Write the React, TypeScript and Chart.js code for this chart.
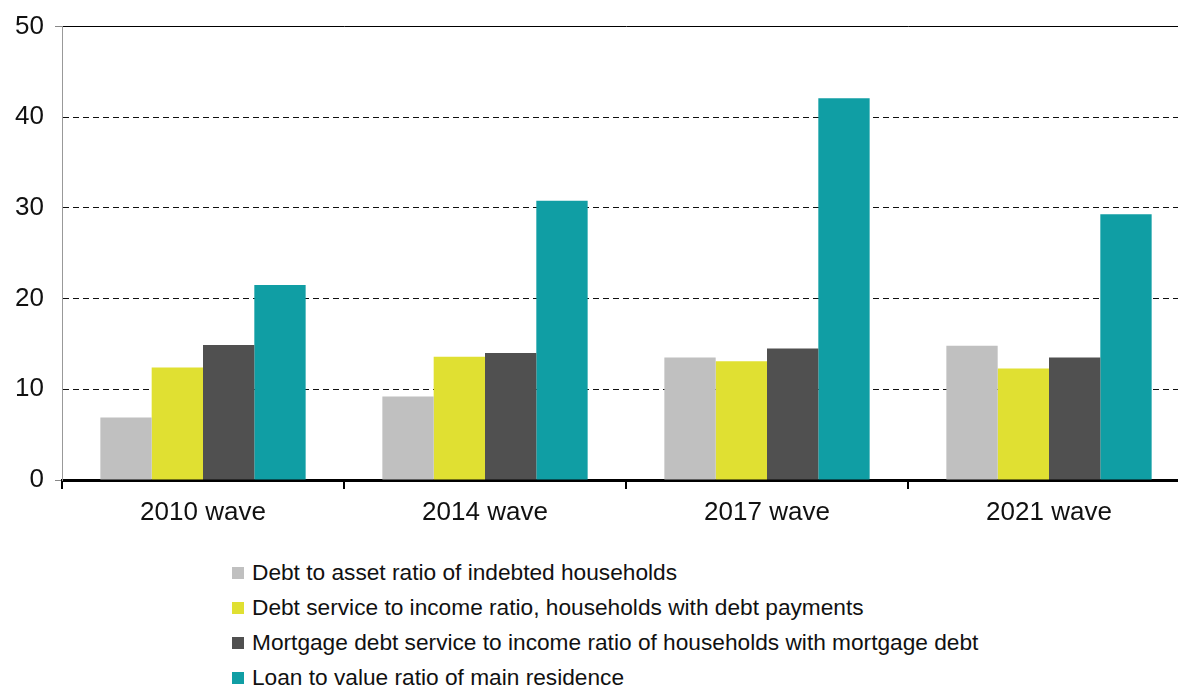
import React, { useEffect, useRef } from "react";
import { Chart, registerables } from "chart.js";

Chart.register(...registerables);

const categories = ["2010 wave", "2014 wave", "2017 wave", "2021 wave"];
const seriesNames = [
  "Debt to asset ratio of indebted households",
  "Debt service to income ratio, households with debt payments",
  "Mortgage debt service to income ratio of households with mortgage debt",
  "Loan to value ratio of main residence",
];
const debtToAsset = [6.9, 9.2, 13.5, 14.8];
const debtServiceToIncome = [12.4, 13.6, 13.1, 12.3];
const mortgageDebtService = [14.9, 14.0, 14.5, 13.5];
const loanToValue = [21.5, 30.8, 42.1, 29.3];
const seriesColors = ["#c0c0c0", "#e0e032", "#505050", "#109ea4"];
const yMin = 0;
const yMax = 50;
const yStep = 10;

const FONT = "'Liberation Sans', Arial, sans-serif";

export default function App() {
  const canvasRef = useRef<HTMLCanvasElement | null>(null);

  useEffect(() => {
    if (!canvasRef.current) return;
    const values = [debtToAsset, debtServiceToIncome, mortgageDebtService, loanToValue];
    const chart = new Chart(canvasRef.current, {
      type: "bar",
      data: {
        labels: categories,
        datasets: seriesNames.map((name, i) => ({
          label: name,
          data: values[i],
          backgroundColor: seriesColors[i],
          borderWidth: 0,
          categoryPercentage: 0.728,
          barPercentage: 1,
        })),
      },
      options: {
        responsive: false,
        animation: false,
        events: [],
        layout: { padding: { top: 25, right: 0, left: 0, bottom: 0 } },
        plugins: {
          legend: { display: false },
          tooltip: { enabled: false },
          title: { display: false },
        },
        scales: {
          x: {
            type: "category",
            position: "bottom",
            offset: true,
            grid: {
              display: true,
              offset: true,
              drawOnChartArea: false,
              drawTicks: true,
              tickLength: 9,
              color: "#000",
              lineWidth: 2,
            },
            border: { display: true, color: "#000", width: 3 },
            ticks: {
              color: "#111",
              font: { family: FONT, size: 26 },
              padding: 8,
              maxRotation: 0,
            },
            afterFit: (scale: any) => {
              scale.height = 65;
            },
          },
          x2: {
            type: "category",
            position: "top",
            offset: true,
            grid: { display: false, drawTicks: false },
            ticks: { display: false },
            border: { display: true, color: "#000", width: 1 },
            afterFit: (scale: any) => {
              scale.height = 0;
            },
          },
          y: {
            type: "linear",
            min: yMin,
            max: yMax,
            position: "left",
            grid: {
              display: true,
              drawTicks: true,
              tickLength: 7,
              lineWidth: 1,
              color: (ctx: any) =>
                ctx.tick && (ctx.tick.value === yMin || ctx.tick.value === yMax)
                  ? "rgba(0,0,0,0)"
                  : "#111",
              tickColor: (ctx: any) =>
                ctx.tick && (ctx.tick.value === yMin || ctx.tick.value === yMax)
                  ? "#888"
                  : "rgba(0,0,0,0)",
            },
            border: { display: true, color: "#999", width: 1, dash: [6, 4] },
            ticks: {
              stepSize: yStep,
              color: "#111",
              font: { family: FONT, size: 26 },
              padding: 11,
            },
            afterFit: (scale: any) => {
              scale.width = 62;
            },
          },
        },
      },
    });
    return () => chart.destroy();
  }, []);

  return (
    <div
      style={{
        position: "fixed",
        left: 0,
        top: 0,
        width: 1178,
        height: 689,
        overflow: "hidden",
        background: "#fff",
        fontFamily: FONT,
      }}
    >
      <canvas ref={canvasRef} width={1190} height={545} style={{ display: "block" }} />
      <div style={{ position: "absolute", left: 232, top: 555 }}>
        {seriesNames.map((name, i) => (
          <div
            key={name}
            style={{
              display: "flex",
              alignItems: "center",
              height: 35,
              whiteSpace: "nowrap",
            }}
          >
            <span
              style={{
                display: "inline-block",
                width: 12,
                height: 12,
                background: seriesColors[i],
                marginRight: 8,
              }}
            />
            <span style={{ fontSize: 22.7, color: "#111" }}>{name}</span>
          </div>
        ))}
      </div>
    </div>
  );
}
